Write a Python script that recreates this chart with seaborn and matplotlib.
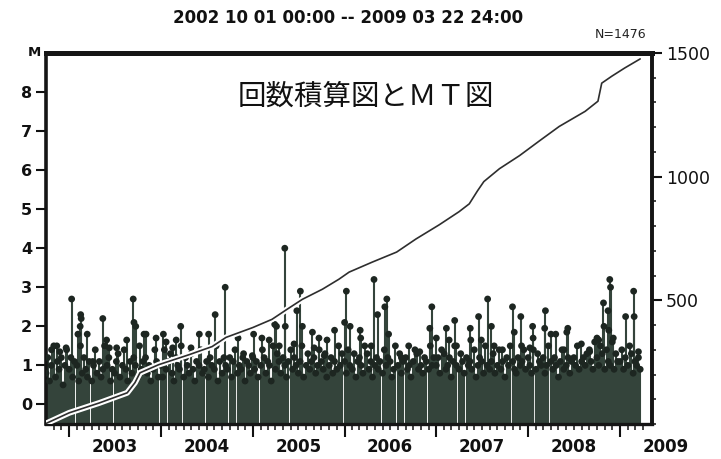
import matplotlib
matplotlib.use("Agg")
import numpy as np
import pandas as pd
import matplotlib.pyplot as plt
import matplotlib.dates as mdates
import matplotlib.patheffects as pe
import matplotlib.transforms as mtrans
from matplotlib.ticker import MultipleLocator, FixedLocator
import seaborn as sns

sns.set_theme(style="ticks")
plt.rcParams["font.family"] = ["DejaVu Sans", "Noto Sans CJK JP"]

# ---- larger events (date, magnitude) ----
big_dates = [
    "2002-10-23", "2002-11-13", "2002-11-25", "2002-12-20",
    "2003-01-11", "2003-02-05", "2003-02-14", "2003-02-16", "2003-02-18", "2003-03-14",
    "2003-04-05", "2003-05-15", "2003-05-30", "2003-06-10", "2003-07-09", "2003-08-18",
    "2003-09-13", "2003-09-16", "2003-09-23", "2003-10-26", "2003-11-03", "2003-12-13",
    "2004-01-11", "2004-01-22", "2004-02-17", "2004-03-02", "2004-03-20", "2004-04-30",
    "2004-06-02", "2004-07-09", "2004-08-04", "2004-09-13", "2004-11-03", "2004-11-25",
    "2004-12-30",
    "2005-01-04", "2005-02-06", "2005-03-07", "2005-03-29", "2005-04-05", "2005-04-16",
    "2005-05-08", "2005-05-10", "2005-06-14", "2005-06-25", "2005-07-09", "2005-07-17",
    "2005-08-26", "2005-09-02", "2005-09-21", "2005-10-12", "2005-10-23", "2005-11-22",
    "2006-01-01", "2006-01-08", "2006-01-23", "2006-03-04", "2006-03-06", "2006-04-17",
    "2006-04-28", "2006-05-12", "2006-06-10", "2006-06-18", "2006-06-25", "2006-08-15",
    "2006-09-13", "2006-10-27", "2006-12-06", "2006-12-14",
    "2007-01-01", "2007-02-10", "2007-02-21", "2007-03-15", "2007-03-22", "2007-05-16",
    "2007-05-18", "2007-06-18", "2007-06-29", "2007-07-24", "2007-08-08", "2007-08-19",
    "2007-09-21", "2007-10-31", "2007-11-07", "2007-12-03", "2007-12-06",
    "2008-01-08", "2008-01-19", "2008-01-21", "2008-03-07", "2008-03-10", "2008-04-01",
    "2008-04-20", "2008-05-23", "2008-06-03", "2008-06-07", "2008-07-31", "2008-09-02",
    "2008-10-01", "2008-10-08", "2008-10-27", "2008-10-29", "2008-11-14", "2008-11-17",
    "2008-11-21", "2008-11-24", "2008-12-05",
    "2009-01-23", "2009-02-24", "2009-02-26", "2009-03-15",
]
big_mags = [
    1.4, 1.5, 1.35, 1.45,
    2.7, 1.8, 2.0, 2.3, 2.2, 1.8,
    1.1, 2.2, 1.65, 1.45, 1.45, 1.65,
    2.7, 2.1, 2.0, 1.8, 1.8, 1.7,
    1.8, 1.6, 1.45, 1.65, 2.0, 1.45,
    1.8, 1.8, 2.3, 3.0, 1.7, 1.3,
    1.25,
    1.8, 1.7, 1.65, 2.05, 2.0, 1.5,
    4.0, 2.0, 1.55, 2.4, 2.9, 2.0,
    1.85, 1.45, 1.7, 1.25, 1.65, 1.9,
    2.1, 2.9, 2.0, 1.9, 1.7, 1.5,
    3.2, 2.3, 2.5, 2.7, 1.8, 1.2,
    1.5, 1.35, 1.95, 2.5,
    1.7, 1.95, 1.65, 2.15, 1.5, 1.95,
    1.65, 2.25, 1.65, 2.7, 2.0, 1.5,
    1.4, 2.5, 1.85, 2.25, 1.5,
    1.45, 2.0, 1.7, 1.95, 2.4, 1.8,
    1.8, 1.4, 1.85, 1.95, 1.55, 1.35,
    1.7, 1.65, 2.6, 2.0, 2.4, 1.9,
    3.2, 3.0, 1.7,
    2.25, 2.9, 2.25, 1.35,
]

# ---- background activity: four events per month, magnitude x10 ----
bg_days = [1, 8, 15, 22]
bg_2002 = [8, 12, 6, 10, 15, 7, 11, 9, 12, 5, 10, 14]
bg_2003 = [9, 12, 7, 11, 10, 6, 15, 8, 12, 9, 7, 11, 6, 10, 14, 8, 11, 7, 9, 15, 10, 12, 6, 9,
           8, 11, 13, 7, 10, 14, 9, 6, 11, 8, 12, 10, 7, 15, 9, 11, 12, 8, 10, 6, 9, 14, 11, 7]
bg_2004 = [10, 7, 14, 9, 11, 13, 8, 6, 12, 10, 9, 15, 7, 12, 10, 8, 13, 9, 6, 11, 10, 14, 8, 9,
           11, 7, 12, 10, 9, 15, 6, 11, 8, 12, 10, 9, 12, 7, 11, 14, 8, 10, 9, 12, 6, 11, 10, 8]
bg_2005 = [12, 9, 11, 7, 10, 14, 12, 8, 11, 10, 6, 15, 9, 13, 11, 8, 12, 10, 7, 11, 14, 9, 12, 10,
           8, 11, 15, 7, 10, 13, 9, 11, 12, 8, 10, 14, 11, 9, 13, 7, 10, 12, 8, 11, 9, 15, 10, 13]
bg_2006 = [11, 8, 14, 10, 9, 13, 7, 11, 12, 10, 8, 15, 13, 9, 11, 7, 10, 12, 9, 11, 8, 14, 10, 12,
           11, 7, 9, 15, 10, 13, 8, 11, 12, 9, 10, 7, 11, 14, 13, 9, 10, 8, 12, 11, 9, 15, 10, 12]
bg_2007 = [10, 12, 8, 14, 13, 9, 10, 12, 7, 11, 15, 10, 9, 13, 11, 8, 12, 10, 11, 9, 14, 7, 10, 12,
           11, 8, 15, 10, 9, 11, 13, 8, 10, 14, 9, 11, 7, 12, 10, 15, 11, 9, 8, 12, 10, 11, 14, 9]
bg_2008 = [12, 10, 8, 14, 9, 13, 11, 10, 12, 8, 10, 15, 11, 9, 12, 10, 7, 11, 14, 9, 10, 12, 8, 11,
           12, 10, 15, 9, 11, 12, 10, 13, 14, 11, 9, 16, 12, 10, 15, 13, 9, 14, 11, 10, 16, 9, 13, 11]
bg_2009 = [11, 14, 9, 12, 10, 15, 13, 8, 11, 10, 12, 9]

# ---- cumulative number of events ----
cum_dates = [
    "2002-10-01", "2003-01-01", "2003-05-01", "2003-08-20", "2003-09-20", "2003-10-10",
    "2003-12-24", "2004-04-22", "2004-07-23", "2004-09-16", "2005-01-01", "2005-03-18",
    "2005-05-16", "2005-07-17", "2005-10-05", "2005-12-09", "2006-01-19", "2006-04-20",
    "2006-07-27", "2006-10-12", "2007-01-12", "2007-04-01", "2007-05-12", "2007-06-14",
    "2007-07-09", "2007-09-09", "2007-11-28", "2008-02-17", "2008-05-04", "2008-08-15",
    "2008-10-05", "2008-10-20", "2008-11-29", "2009-01-19", "2009-03-22",
]
cum_counts = [
    2, 45, 85, 126, 167, 207,
    240, 280, 313, 350, 390, 423,
    463, 504, 545, 585, 614, 654,
    695, 748, 805, 858, 890, 943,
    980, 1032, 1085, 1146, 1203, 1264,
    1305, 1378, 1406, 1439, 1476,
]

years = [2003, 2004, 2005, 2006, 2007, 2008, 2009]
m_ticks = [0, 1, 2, 3, 4, 5, 6, 7, 8]
n_ticks = [500, 1000, 1500]
title_text = "2002 10 01 00:00 -- 2009 03 22 24:00"
inner_text = "回数積算図とＭＴ図"

# ---- assemble the event table ----
bg_rows = []
for year, vals, first_month in [(2002, bg_2002, 10), (2003, bg_2003, 1), (2004, bg_2004, 1),
                                (2005, bg_2005, 1), (2006, bg_2006, 1), (2007, bg_2007, 1),
                                (2008, bg_2008, 1), (2009, bg_2009, 1)]:
    for i, v in enumerate(vals):
        month = first_month + i // 4
        day = bg_days[i % 4]
        bg_rows.append((pd.Timestamp(year=year, month=month, day=day), v / 10.0))

events = pd.DataFrame({
    "date": list(pd.to_datetime(big_dates)) + [r[0] for r in bg_rows],
    "M": list(big_mags) + [r[1] for r in bg_rows],
})
events["t"] = mdates.date2num(events["date"])
cum = pd.DataFrame({"t": mdates.date2num(pd.to_datetime(cum_dates)), "N": cum_counts})

# ---- figure ----
fig = plt.figure(figsize=(7.21, 4.59), dpi=100)
ax = fig.add_axes([0.0638, 0.0763, 0.8405, 0.8083])
x0 = mdates.date2num(pd.Timestamp("2002-10-01"))
x1 = mdates.date2num(pd.Timestamp("2009-05-08"))
ax.set_xlim(x0, x1)
ax.set_ylim(-0.5, 9)

stem_col = "#34443b"
head_col = "#1d2621"
ax.vlines(events["t"], -0.5, events["M"], color=stem_col, lw=1.5, zorder=2)
sns.scatterplot(data=events, x="t", y="M", ax=ax, s=24, color=head_col,
                edgecolor="none", linewidth=0, zorder=3, legend=False)
ax.set_xlabel("")
ax.set_ylabel("")

# cumulative count on the right axis
ax2 = ax.twinx()
sns.lineplot(data=cum, x="t", y="N", ax=ax2, color="#2e2e2e", lw=1.2,
             path_effects=[pe.Stroke(linewidth=4.2, foreground="white"), pe.Normal()],
             zorder=5)
ax2.set_ylim(0, 1500)
ax2.set_xlim(x0, x1)
ax2.set_xlabel("")
ax2.set_ylabel("")

# left axis ticks
ax.yaxis.set_major_locator(FixedLocator(m_ticks))
ax.set_yticklabels([str(v) for v in m_ticks], fontsize=11.5, fontweight="bold", color="#111")
ax.tick_params(axis="y", which="major", left=True, right=False, direction="out",
               length=7, width=1.5, pad=3, colors="#111")

# bottom axis: year and month ticks
ax.xaxis.set_major_locator(FixedLocator(
    [mdates.date2num(pd.Timestamp(year=y, month=1, day=1)) for y in years]))
month_ticks = pd.date_range("2002-11-01", "2009-04-01", freq="MS")
ax.xaxis.set_minor_locator(FixedLocator(mdates.date2num(month_ticks)))
ax.tick_params(axis="x", which="major", bottom=True, direction="out", length=9,
               width=1.5, labelbottom=False, colors="#111")
ax.tick_params(axis="x", which="minor", bottom=True, direction="out", length=4,
               width=1.1, colors="#111")
trans = mtrans.blended_transform_factory(ax.transData, ax.transAxes)
for y in years:
    ax.text(mdates.date2num(pd.Timestamp(year=y, month=7, day=1)), -0.062, str(y),
            transform=trans, ha="center", va="center", fontsize=12,
            fontweight="bold", color="#111", clip_on=False)

# right axis ticks
ax2.yaxis.set_major_locator(FixedLocator(n_ticks))
ax2.yaxis.set_minor_locator(MultipleLocator(100))
ax2.set_yticklabels([str(v) for v in n_ticks], fontsize=12.5, color="#111")
ax2.tick_params(axis="y", which="major", right=True, left=False, direction="out",
                length=7, width=1.5, pad=3, colors="#111")
ax2.tick_params(axis="y", which="minor", right=True, left=False, direction="out",
                length=3, width=1.1, colors="#111")

# frame
for side, lw in [("top", 3.6), ("left", 2.6), ("right", 2.6), ("bottom", 2.4)]:
    ax.spines[side].set_visible(True)
    ax.spines[side].set_linewidth(lw)
    ax.spines[side].set_color("#151515")
for side in ["top", "left", "bottom"]:
    ax2.spines[side].set_visible(False)
ax2.spines["right"].set_linewidth(2.6)
ax2.spines["right"].set_color("#151515")

# text
fig.text(0.483, 0.961, title_text, ha="center", va="center", fontsize=12,
         fontweight="bold", color="#111")
fig.text(0.896, 0.924, "N=1476", ha="right", va="center", fontsize=9, color="#222")
fig.text(0.047, 0.885, "M", ha="center", va="center", fontsize=9.5,
         fontweight="bold", color="#111")
ax.text(0.528, 0.881, inner_text, transform=ax.transAxes, ha="center", va="center",
        fontsize=20.5, color="#111", family=["Noto Sans CJK JP", "DejaVu Sans"])

fig.savefig("out.png", dpi=100, facecolor="white")
